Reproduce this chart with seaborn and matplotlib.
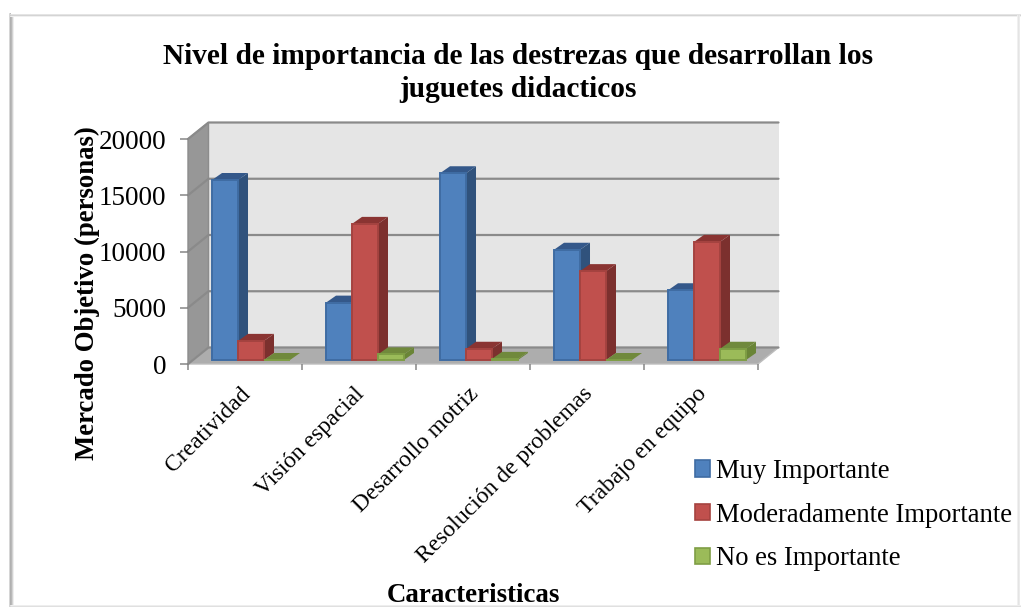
import matplotlib
matplotlib.use("Agg")
import matplotlib.pyplot as plt
import pandas as pd
import seaborn as sns
from matplotlib.lines import Line2D
from matplotlib.patches import Polygon
from matplotlib.transforms import Affine2D, IdentityTransform

# Survey results, in people
categories = ["Creatividad", "Visión espacial", "Desarrollo motriz",
              "Resolución de problemas", "Trabajo en equipo"]
muy_importante = [16000, 5100, 16600, 9800, 6200]
moderadamente_importante = [1700, 12100, 1000, 7900, 10500]
no_importante = [0, 500, 100, 0, 1000]
series_names = ["Muy Importante", "Moderadamente Importante", "No es Importante"]
y_ticks = [0, 5000, 10000, 15000, 20000]

title_text = "Nivel de importancia de las destrezas que desarrollan los\njuguetes didacticos"
y_title = "Mercado Objetivo (personas)"
x_title = "Caracteristicas"

# front, top, side and outline shades per series
FRONT = ["#4F81BD", "#C0504D", "#9BBB59"]
TOP = ["#34588A", "#8A3432", "#70893C"]
SIDE = ["#30527C", "#7C302E", "#6A8537"]
EDGE = ["#3F6CA3", "#A54340", "#7F9E45"]

W, H = 1021, 607
WALL_DX, WALL_DY = 20.5, 16.5   # depth of the chart box, pixels
BAR_DX, BAR_DY = 6, 4           # bars stand slightly behind the front edge
DEPTH_DX, DEPTH_DY = 10, 7      # depth of each bar, pixels

sns.set_theme(style="white")
plt.rcParams["font.family"] = ["Liberation Serif", "DejaVu Serif"]

fig = plt.figure(figsize=(W / 100, H / 100), dpi=100, facecolor="white")
ax = fig.add_axes([188 / W, (H - 364) / H, (758 - 188) / W, (364 - 139) / H])

df = pd.DataFrame({
    "categoria": categories * 3,
    "serie": [n for n in series_names for _ in categories],
    "personas": muy_importante + moderadamente_importante + no_importante,
})
sns.barplot(data=df, x="categoria", y="personas", hue="serie", hue_order=series_names,
            order=categories, palette=FRONT, width=0.684, gap=0, saturation=1,
            errorbar=None, ax=ax)

ax.set_xlim(-0.5, len(categories) - 0.5)
ax.set_ylim(y_ticks[0], y_ticks[-1])
ax.patch.set_visible(False)
for spine in ax.spines.values():
    spine.set_visible(False)

# Keep each bar together with its series index before other patches are added
series_bars = [(s, bar) for s, container in enumerate(ax.containers) for bar in container]


def px(x, y):
    return ax.transData.transform((x, y))


def box_face(points, color, z, edge="none", lw=0):
    ax.add_patch(Polygon(points, closed=True, facecolor=color, edgecolor=edge, linewidth=lw,
                         transform=IdentityTransform(), zorder=z, clip_on=False))


# Chart box: back wall, side wall and floor
x0, y0 = px(-0.5, y_ticks[0])
x1, _ = px(len(categories) - 0.5, y_ticks[0])
_, ytop = px(-0.5, y_ticks[-1])
box_face([(x0 + WALL_DX, y0 + WALL_DY), (x1 + WALL_DX, y0 + WALL_DY),
          (x1 + WALL_DX, ytop + WALL_DY), (x0 + WALL_DX, ytop + WALL_DY)], "#E5E5E5", 0.1)
box_face([(x0, y0), (x0 + WALL_DX, y0 + WALL_DY), (x0 + WALL_DX, ytop + WALL_DY), (x0, ytop)],
         "#979797", 0.2, "#8C8C8C", 1.0)
box_face([(x0, y0), (x1, y0), (x1 + WALL_DX, y0 + WALL_DY), (x0 + WALL_DX, y0 + WALL_DY)],
         "#ADADAD", 0.2, "#BDBDBD", 1.0)

# Gridlines run along the back wall and fold down the side wall
for v in y_ticks:
    _, yv = px(-0.5, v)
    ax.add_line(Line2D([x0, x0 + WALL_DX, x1 + WALL_DX],
                       [yv, yv + WALL_DY, yv + WALL_DY],
                       color="#8A8A8A", lw=1.6, transform=IdentityTransform(),
                       zorder=0.5, clip_on=False))

# Extrude every bar: shifted front face with a top and a side face behind it
shift = ax.transData + Affine2D().translate(BAR_DX, BAR_DY)
n_cat = len(categories)
ordered = sorted(series_bars, key=lambda item: item[1].get_x())
for z, (s, bar) in enumerate(ordered):
    base_z = 2 + z
    bar.set_transform(shift)
    bar.set_clip_on(False)
    bar.set_zorder(base_z + 0.5)
    bar.set_facecolor(FRONT[s])
    bar.set_edgecolor(EDGE[s])
    bar.set_linewidth(1.4)
    left, bottom = shift.transform((bar.get_x(), 0))
    right, top = shift.transform((bar.get_x() + bar.get_width(), bar.get_height()))
    box_face([(right, bottom), (right + DEPTH_DX, bottom + DEPTH_DY),
              (right + DEPTH_DX, top + DEPTH_DY), (right, top)], SIDE[s], base_z)
    box_face([(left, top), (right, top), (right + DEPTH_DX, top + DEPTH_DY),
              (left + DEPTH_DX, top + DEPTH_DY)], TOP[s], base_z + 0.1)

# Axes text and ticks
ax.set_yticks(y_ticks)
ax.tick_params(axis="y", length=5.8, width=1.1, color="#868686", pad=10,
               labelsize=19.5, labelcolor="black", left=True)
ax.set_xticks(range(n_cat))
ax.set_xticklabels(categories, rotation=45, ha="right", rotation_mode="anchor", fontsize=17.0)
ax.tick_params(axis="x", which="major", length=0, pad=14, labelcolor="black")
ax.set_xticks([i - 0.5 for i in range(n_cat + 1)], minor=True)
ax.tick_params(axis="x", which="minor", length=4.5, width=1.1, color="#868686", bottom=True)
ax.set_xlabel("")
ax.set_ylabel("")
for label in ax.get_xticklabels():
    label.set_transform(label.get_transform() + Affine2D().translate(-5, 0))

fig.text(518 / W, 1 - 73 / H, title_text, ha="center", va="center", fontsize=21.15,
         fontweight="bold", color="black", linespacing=1.3)
fig.text(87 / W, 1 - 293 / H, y_title, rotation=90, ha="center", va="center",
         fontsize=19.3, fontweight="bold", color="black")
fig.text(473 / W, 1 - 595 / H, x_title, ha="center", va="center",
         fontsize=19.4, fontweight="bold", color="black")

# Legend, below and to the right of the plot
handles, labels = ax.get_legend_handles_labels()
leg = ax.legend(handles, labels, loc="center left", bbox_to_anchor=(695 / W, 1 - 515 / H),
                bbox_transform=fig.transFigure, frameon=False, fontsize=19.2,
                handlelength=0.56, handleheight=0.56, handletextpad=0.22, labelspacing=0.70,
                borderpad=0, borderaxespad=0)
for patch, face, edge in zip(leg.get_patches(), FRONT, EDGE):
    patch.set_facecolor(face)
    patch.set_edgecolor(edge)
    patch.set_linewidth(1.2)
for text in leg.get_texts():
    text.set_color("black")

# Soft shadow around the chart frame, fading towards the inside
frame = [([8.5, 8.5], [13, 607], "#D6D6D6"),
         ([9.5, 9.5], [13, 607], "#B0B0B0"),
         ([10.5, 10.5], [14, 607], "#B8B8B8"),
         ([11.5, 11.5], [15, 607], "#D2D2D2"),
         ([12.5, 12.5], [15, 607], "#EEEEEE"),
         ([10, 1021], [13.5, 13.5], "#E4E4E4"),
         ([10, 1021], [14.5, 14.5], "#D4D4D4"),
         ([10, 1021], [15.5, 15.5], "#F0F0F0"),
         ([1016.5, 1016.5], [15, 607], "#F0F0F0"),
         ([1017.5, 1017.5], [15, 607], "#E4E4E4"),
         ([1018.5, 1018.5], [15, 607], "#EBEBEB"),
         ([10, 1021], [604.5, 604.5], "#EEEEEE"),
         ([10, 1021], [605.5, 605.5], "#E0E0E0"),
         ([10, 1021], [606.5, 606.5], "#ECECEC")]
for xs, ys, color in frame:
    fig.add_artist(Line2D([x / W for x in xs], [1 - y / H for y in ys], lw=0.72, color=color,
                          transform=fig.transFigure, zorder=10))

fig.savefig("out.png", dpi=100, facecolor="white")
